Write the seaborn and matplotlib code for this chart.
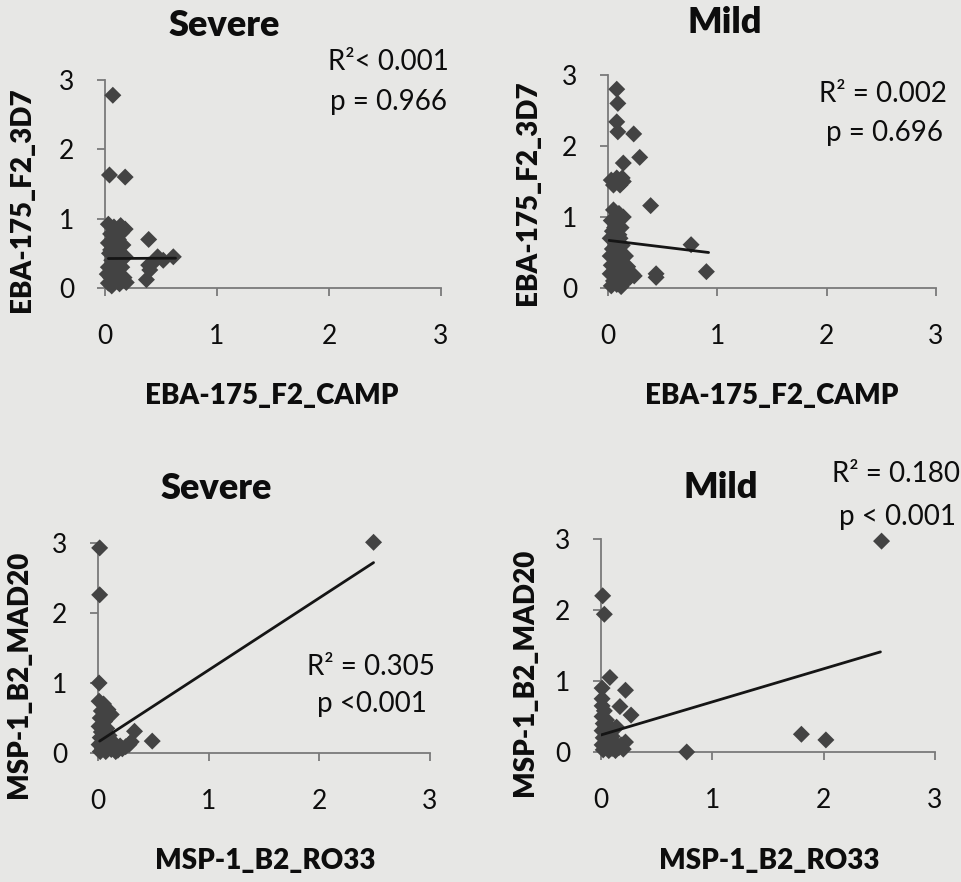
import matplotlib
matplotlib.use("Agg")
import matplotlib.pyplot as plt
import pandas as pd
import seaborn as sns

sns.set_theme(style="white")
plt.rcParams["font.family"] = ["Lato", "DejaVu Sans"]

# ---------------- data ----------------
# Panel A: Severe, EBA-175_F2_CAMP (x) vs EBA-175_F2_3D7 (y)
sev_eba_x = [0.07, 0.04, 0.18, 0.39, 0.61, 0.37, 0.39, 0.47, 0.40, 0.52, 0.44,
             0.03, 0.08, 0.15, 0.05, 0.12, 0.03, 0.16, 0.08, 0.04, 0.12, 0.18, 0.06,
             0.10, 0.03, 0.15, 0.07, 0.02, 0.12, 0.05, 0.17, 0.09, 0.03, 0.13, 0.06,
             0.19, 0.10, 0.05, 0.18, 0.14]
sev_eba_y = [2.78, 1.63, 1.60, 0.70, 0.45, 0.12, 0.33, 0.45, 0.26, 0.40, 0.38,
             0.92, 0.88, 0.80, 0.78, 0.70, 0.65, 0.62, 0.58, 0.50, 0.48, 0.45, 0.40,
             0.35, 0.30, 0.30, 0.25, 0.20, 0.20, 0.15, 0.15, 0.10, 0.07, 0.06, 0.03,
             0.08, 0.45, 0.55, 0.85, 0.90]
sev_eba_fit_x = [0.03, 0.63]
sev_eba_fit_y = [0.425, 0.43]

# Panel B: Mild, EBA-175_F2_CAMP (x) vs EBA-175_F2_3D7 (y)
mild_eba_x = [0.08, 0.09, 0.08, 0.09, 0.235, 0.29, 0.14, 0.39, 0.76, 0.90, 0.44, 0.44, 0.24,
              0.03, 0.08, 0.13, 0.05, 0.11, 0.14,
              0.05, 0.10, 0.14, 0.03, 0.08, 0.12, 0.04, 0.10, 0.02, 0.07, 0.13, 0.04,
              0.10, 0.16, 0.02, 0.07, 0.12, 0.03, 0.18, 0.08, 0.14, 0.02, 0.10, 0.20,
              0.05, 0.15, 0.08, 0.03, 0.12, 0.22, 0.06, 0.11]
mild_eba_y = [2.80, 2.60, 2.34, 2.20, 2.17, 1.84, 1.76, 1.16, 0.61, 0.23, 0.20, 0.15, 0.17,
              1.52, 1.55, 1.55, 1.45, 1.45, 1.50,
              1.10, 1.05, 1.00, 0.95, 0.90, 0.85, 0.80, 0.75, 0.70, 0.65, 0.60, 0.55,
              0.50, 0.45, 0.45, 0.40, 0.35, 0.32, 0.30, 0.28, 0.22, 0.20, 0.15, 0.15,
              0.10, 0.08, 0.05, 0.03, 0.02, 0.20, 0.85, 0.70]
mild_eba_fit_x = [0.01, 0.92]
mild_eba_fit_y = [0.67, 0.50]

# Panel C: Severe, MSP-1_B2_RO33 (x) vs MSP-1_B2_MAD20 (y)
sev_msp_x = [0.015, 0.015, 0.01, 2.49, 0.33, 0.49,
             0.01, 0.05, 0.09, 0.03, 0.12, 0.02, 0.06, 0.01, 0.08, 0.03, 0.10, 0.02,
             0.06, 0.14, 0.01, 0.09, 0.04, 0.12, 0.18, 0.22, 0.25, 0.28, 0.20, 0.16,
             0.07, 0.02, 0.30]
sev_msp_y = [2.93, 2.26, 1.00, 3.01, 0.31, 0.17,
             0.74, 0.70, 0.62, 0.60, 0.55, 0.50, 0.45, 0.38, 0.35, 0.30, 0.25, 0.22,
             0.18, 0.15, 0.12, 0.10, 0.06, 0.05, 0.04, 0.06, 0.09, 0.12, 0.10, 0.02,
             0.02, 0.02, 0.16]
sev_msp_fit_x = [0.015, 2.49]
sev_msp_fit_y = [0.17, 2.72]

# Panel D: Mild, MSP-1_B2_RO33 (x) vs MSP-1_B2_MAD20 (y)
mild_msp_x = [2.52, 0.015, 0.03, 0.08, 0.01, 0.22, 0.17, 0.27, 0.14, 0.22, 1.80, 2.02, 0.77,
              0.01, 0.03, 0.01, 0.05, 0.02, 0.08, 0.01, 0.05, 0.10, 0.02, 0.07, 0.13,
              0.01, 0.04, 0.10, 0.16, 0.20, 0.02, 0.07, 0.13, 0.18, 0.04, 0.01]
mild_msp_y = [2.97, 2.20, 1.94, 1.05, 0.90, 0.87, 0.64, 0.52, 0.35, 0.14, 0.25, 0.17, 0.00,
              0.65, 0.58, 0.50, 0.45, 0.40, 0.35, 0.30, 0.25, 0.22, 0.20, 0.15, 0.12,
              0.10, 0.08, 0.05, 0.06, 0.04, 0.03, 0.02, 0.02, 0.10, 0.35, 0.75]
mild_msp_fit_x = [0.0, 2.51]
mild_msp_fit_y = [0.24, 1.41]

ticks = [0, 1, 2, 3]
titles = ["Severe", "Mild", "Severe", "Mild"]
x_labels = ["EBA-175_F2_CAMP", "EBA-175_F2_CAMP", "MSP-1_B2_RO33", "MSP-1_B2_RO33"]
y_labels = ["EBA-175_F2_3D7", "EBA-175_F2_3D7", "MSP-1_B2_MAD20", "MSP-1_B2_MAD20"]
r2_texts = ["R\u00b2< 0.001", "R\u00b2 = 0.002", "R\u00b2 = 0.305", "R\u00b2 = 0.180"]
p_texts = ["p = 0.966", "p = 0.696", "p <0.001", "p < 0.001"]

# ---------------- layout (pixels in the 961x882 picture) ----------------
W, H = 961, 882
BG = "#e7e7e5"
MARK = "#434343"
AXC = "#7a7a7a"
TXT = "#0d0d0d"

panels = [
    dict(x=sev_eba_x, y=sev_eba_y, fx=sev_eba_fit_x, fy=sev_eba_fit_y,
         box=(105, 441, 80, 288), title=(224, 36), xl=(272, 396), yl=(22, 200),
         r2=(388, 70), p=(388, 110)),
    dict(x=mild_eba_x, y=mild_eba_y, fx=mild_eba_fit_x, fy=mild_eba_fit_y,
         box=(608, 936, 75, 288), title=(725, 33), xl=(772, 396), yl=(528, 193),
         r2=(883, 102), p=(885, 141)),
    dict(x=sev_msp_x, y=sev_msp_y, fx=sev_msp_fit_x, fy=sev_msp_fit_y,
         box=(98, 430, 543, 753), title=(216, 499), xl=(265, 861), yl=(19, 674),
         r2=(371, 675), p=(372, 712)),
    dict(x=mild_msp_x, y=mild_msp_y, fx=mild_msp_fit_x, fy=mild_msp_fit_y,
         box=(601, 935, 539, 752), title=(721, 498), xl=(769, 861), yl=(525, 672),
         r2=(896, 482), p=(898, 525)),
]

fig = plt.figure(figsize=(W / 100, H / 100), dpi=100, facecolor=BG)

for i, pnl in enumerate(panels):
    l, r, t, b = pnl["box"]
    ax = fig.add_axes([l / W, 1 - b / H, (r - l) / W, (b - t) / H])
    ax.set_facecolor("none")

    def fx(px):
        return (px - l) / (r - l)

    def fy(py):
        return (b - py) / (b - t)

    df = pd.DataFrame({"x": pnl["x"], "y": pnl["y"]})
    sns.scatterplot(data=df, x="x", y="y", marker="D", s=75, color=MARK,
                    edgecolor="none", linewidth=0, ax=ax, clip_on=False,
                    legend=False, zorder=3)
    fit = pd.DataFrame({"x": pnl["fx"], "y": pnl["fy"]})
    sns.lineplot(data=fit, x="x", y="y", color="#151515", linewidth=2.0,
                 ax=ax, zorder=4)

    ax.set_xlim(0, 3)
    ax.set_ylim(0, 3)
    ax.set_xticks(ticks)
    ax.set_yticks(ticks)
    ax.set_xticklabels([str(v) for v in ticks])
    ax.set_yticklabels([str(v) for v in ticks])
    for s in ["top", "right"]:
        ax.spines[s].set_visible(False)
    for s in ["left", "bottom"]:
        ax.spines[s].set_color(AXC)
        ax.spines[s].set_linewidth(1.3)
    ax.tick_params(axis="x", direction="out", length=6, width=1.3, color=AXC,
                   pad=20, labelsize=19, labelcolor=TXT, bottom=True)
    ax.tick_params(axis="y", direction="out", length=6, width=1.3, color=AXC,
                   pad=16, labelsize=19, labelcolor=TXT, left=True)

    ax.set_xlabel(x_labels[i], fontsize=20, fontweight="heavy", color=TXT)
    ax.set_ylabel(y_labels[i], fontsize=20, fontweight="heavy", color=TXT)
    ax.xaxis.label.set_va("center")
    ax.yaxis.label.set_va("center")
    ax.xaxis.set_label_coords(fx(pnl["xl"][0]), fy(pnl["xl"][1]))
    ax.yaxis.set_label_coords(fx(pnl["yl"][0]), fy(pnl["yl"][1]))

    ax.text(fx(pnl["title"][0]), fy(pnl["title"][1]), titles[i], transform=ax.transAxes,
            ha="center", va="baseline", fontsize=26, fontweight="heavy", color=TXT)
    ax.text(fx(pnl["r2"][0]), fy(pnl["r2"][1]), r2_texts[i], transform=ax.transAxes,
            ha="center", va="baseline", fontsize=20, color=TXT)
    ax.text(fx(pnl["p"][0]), fy(pnl["p"][1]), p_texts[i], transform=ax.transAxes,
            ha="center", va="baseline", fontsize=20, color=TXT)

fig.savefig("out.png", dpi=100, facecolor=BG)
